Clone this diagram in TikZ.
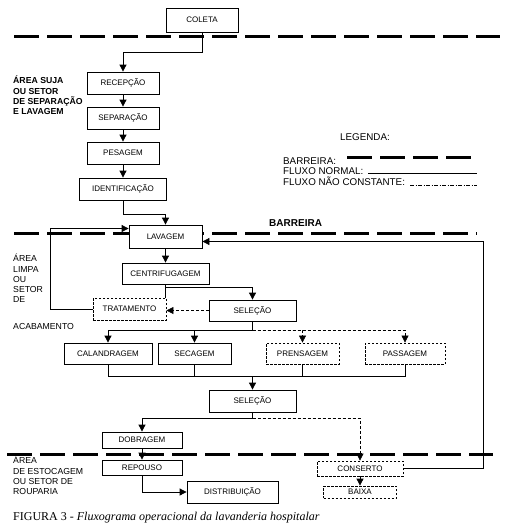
\documentclass[tikz,border=0pt]{standalone}
\usepackage{fontspec}
\setmainfont{Liberation Sans}
\newfontfamily\legendafont{Liberation Serif}
\usetikzlibrary{arrows.meta}

\begin{document}
\begin{tikzpicture}[
  x=1pt, y=-1pt,
  etapa/.style={draw=black, fill=white, line width=0.8pt, inner sep=0pt, minimum height=22pt, font=\fontsize{8}{9}\selectfont},
  etapanc/.style={etapa, dash pattern=on 2.5pt off 1.5pt},
  fluxo/.style={line width=0.8pt, -{Triangle[length=7pt,width=7pt]}},
  fluxonc/.style={fluxo, line width=0.6pt, dash pattern=on 3pt off 2pt},
  linha/.style={line width=0.8pt},
  barreira/.style={line width=3pt, dash pattern=on 25pt off 8pt},
  area/.style={anchor=north west, align=left, inner sep=0pt, font=\fontsize{8.7}{10.3}\selectfont},
  texto/.style={anchor=west, inner sep=0pt, font=\fontsize{9.8}{11}\selectfont}
]
  \useasboundingbox (0,0) rectangle (509,530);

  % Barreiras
  \draw[barreira] (14,36) -- (500,36);
  \draw[barreira] (14,233) -- (477,233);
  \draw[barreira] (7,454) -- (493,454);

  % Area suja
  \node[etapa, minimum width=72pt, minimum height=24pt] (coleta) at (202,20) {COLETA};
  \node[etapa, minimum width=72pt] (recepcao) at (123,83) {RECEPÇÃO};
  \node[etapa, minimum width=72pt] (separacao) at (123,118) {SEPARAÇÃO};
  \node[etapa, minimum width=72pt] (pesagem) at (123,153) {PESAGEM};
  \node[etapa, minimum width=87pt] (identificacao) at (123,189) {IDENTIFICAÇÃO};

  % Area limpa
  \node[etapa, minimum width=73pt, minimum height=23pt] (lavagem) at (165.5,236.5) {LAVAGEM};
  \node[etapa, minimum width=87pt, minimum height=21pt] (centrifugagem) at (165.5,273.5) {CENTRIFUGAGEM};
  \node[etapanc, minimum width=73pt] (tratamento) at (129.5,309) {TRATAMENTO};
  \node[etapa, minimum width=87pt, minimum height=21pt] (selecao1) at (252.5,310.5) {SELEÇÃO};
  \node[etapa, minimum width=88pt, minimum height=21pt] (calandragem) at (108,353.5) {CALANDRAGEM};
  \node[etapa, minimum width=73pt, minimum height=21pt] (secagem) at (194.5,353.5) {SECAGEM};
  \node[etapanc, minimum width=73pt, minimum height=21pt] (prensagem) at (302.5,353.5) {PRENSAGEM};
  \node[etapanc, minimum width=80pt, minimum height=21pt] (passagem) at (405,353.5) {PASSAGEM};
  \node[etapa, minimum width=87pt] (selecao2) at (252.5,401) {SELEÇÃO};
  \node[etapa, minimum width=80pt, minimum height=16pt] (dobragem) at (142,440) {DOBRAGEM};

  % Rouparia
  \node[etapa, minimum width=80pt, minimum height=15pt] (repouso) at (142,467.5) {REPOUSO};
  \node[etapa, minimum width=91pt] (distribuicao) at (232.5,492) {DISTRIBUIÇÃO};
  \node[etapanc, minimum width=86pt, minimum height=15pt] (conserto) at (360,468.5) {CONSERTO};
  \node[etapanc, minimum width=73pt, minimum height=12pt] (baixa) at (360,492) {BAIXA};

  % Fluxos
  \draw[fluxo] (coleta.south) -- ++(0,20) -| (recepcao.north);
  \draw[fluxo] (recepcao) -- (separacao);
  \draw[fluxo] (separacao) -- (pesagem);
  \draw[fluxo] (pesagem) -- (identificacao);
  \draw[fluxo] (identificacao.south) -- ++(0,14) -| (lavagem.north);
  \draw[fluxo] (lavagem) -- (centrifugagem);

  \coordinate (ramo1) at ([yshift=-3pt]centrifugagem.south);
  \draw[linha] (centrifugagem.south) -- (centrifugagem.south |- tratamento.north);
  \draw[fluxo] (ramo1) -| (selecao1.north);
  \draw[fluxonc] (selecao1.west) -- (selecao1.west -| tratamento.east);
  \draw[fluxo] (tratamento.west) -- ++(-42,0) |- ([yshift=8pt]lavagem.west);

  \coordinate (ramo2) at ([yshift=-9pt]selecao1.south);
  \draw[linha] (selecao1.south) -- (ramo2);
  \draw[fluxo] (ramo2) -| (calandragem.north);
  \draw[fluxo] (ramo2) -| (secagem.north);
  \draw[fluxonc] (ramo2) -| (prensagem.north);
  \draw[fluxonc] (ramo2) -| (passagem.north);

  \coordinate (ramo3) at ([yshift=13pt]selecao2.north);
  \draw[linha] (calandragem.south) |- (ramo3);
  \draw[linha] (passagem.south) |- (ramo3);
  \draw[linha] (secagem.south) -- (secagem.south |- ramo3);
  \draw[linha] (prensagem.south) -- (prensagem.south |- ramo3);
  \draw[fluxo] (ramo3) -- (selecao2.north);

  \coordinate (ramo4) at ([yshift=-6pt]selecao2.south);
  \draw[linha] (selecao2.south) -- (ramo4);
  \draw[fluxo] (ramo4) -| (dobragem.north);
  \draw[fluxonc] (ramo4) -| (conserto.north);
  \draw[fluxo] (dobragem) -- (repouso);
  \draw[fluxo] (repouso.south) |- (distribuicao.west);
  \draw[fluxo] (conserto) -- (baixa);
  \draw[fluxo] (conserto.east) -- ++(80,0) |- ([yshift=-5pt]lavagem.east);

  % Rotulos das areas
  \node[area, font=\bfseries\fontsize{8.7}{10.3}\selectfont] (areasuja) at (13,76) {ÁREA SUJA\\OU SETOR\\DE SEPARAÇÃO\\E LAVAGEM};
  \node[area] (arealimpa) at (13,254) {ÁREA\\LIMPA\\OU\\SETOR\\DE\\[16pt]ACABAMENTO};
  \node[area] (areaestoque) at (13,456) {ÁREA\\DE ESTOCAGEM\\OU SETOR DE\\ROUPARIA};
  \node[texto, font=\bfseries\fontsize{10}{12}\selectfont] (rotulobarreira) at (269,223) {BARREIRA};

  % Legenda
  \node[texto] (legenda) at (340,137) {LEGENDA:};
  \node[texto] (legbarreira) at (283,161) {BARREIRA:};
  \node[texto] (legnormal) at (283,171) {FLUXO NORMAL:};
  \node[texto] (legnc) at (283,181) {FLUXO NÃO CONSTANTE:};
  \draw[barreira] (347,157) -- (477,157);
  \draw[line width=0.6pt] (368,173) -- (477,173);
  \draw[line width=0.6pt, dash pattern=on 4pt off 1.5pt on 1pt off 1.5pt] (410,185) -- (477,185);

  \node[anchor=west, inner sep=0pt, font=\legendafont\fontsize{12}{14}\selectfont] (figura) at (13,518) {FIGURA 3 - \textit{Fluxograma operacional da lavanderia hospitalar}};
\end{tikzpicture}
\end{document}
